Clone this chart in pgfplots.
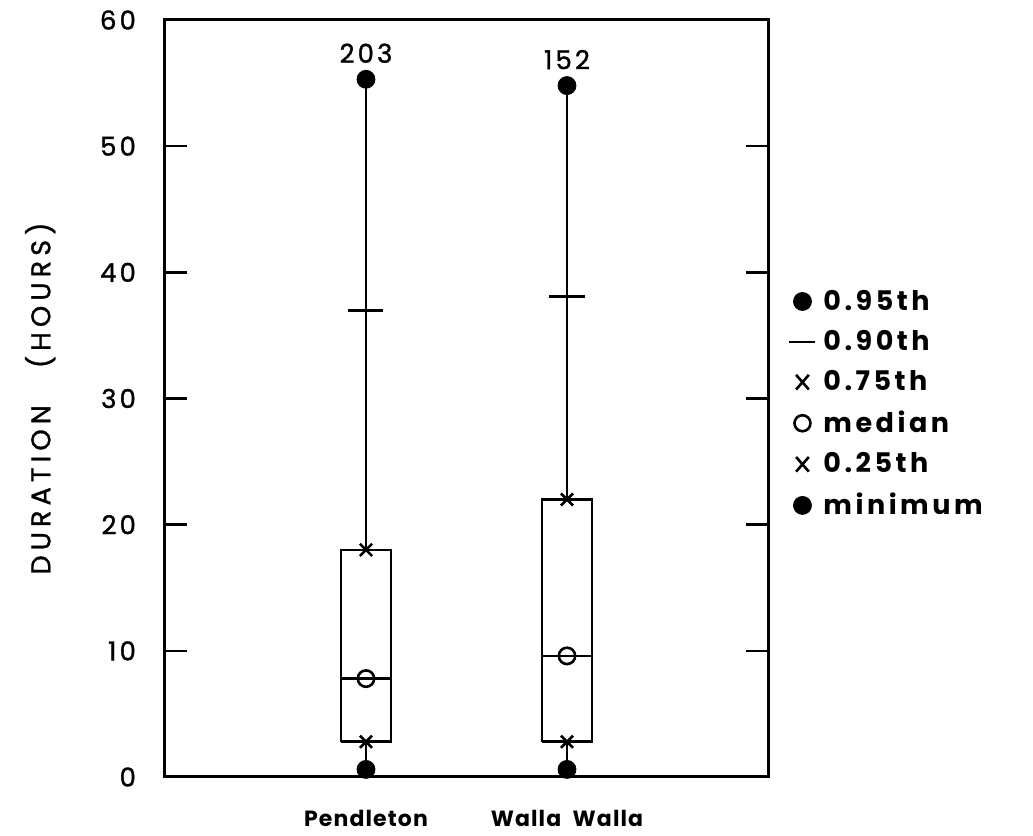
\documentclass[border=0pt]{standalone}
\usepackage{fontspec}
\setmainfont{Poppins}
\newfontfamily\lsfont{Poppins}[LetterSpace=12, FakeBold=1.2]
\newfontfamily\ylfont{Poppins}[LetterSpace=19, FakeBold=1.2]
\newfontfamily\xlfont{Poppins}[LetterSpace=5]
\newfontfamily\lgfont{Poppins}[LetterSpace=13]
\usepackage{pgfplots}
\usetikzlibrary{calc}
\pgfplotsset{compat=1.18}
\begin{document}
\begin{tikzpicture}
\begin{axis}[
  scale only axis,
  width=301.5pt, height=378.5pt,
  xmin=0, xmax=3, ymin=0, ymax=60,
  axis line style={line width=1.5pt},
  xtick={1,2}, xticklabels={Pendleton, Walla\ \ Walla},
  xtick style={draw=none},
  xticklabel style={font=\xlfont\bfseries\fontsize{11}{13}\selectfont, yshift=-13pt},
  ytick={0,10,20,30,40,50,60},
  ytick pos=both,
  tick align=inside,
  major tick length=11pt,
  ytick style={black, line width=1.2pt},
  yticklabel style={font=\lsfont\fontsize{13}{15}\selectfont, xshift=-11pt},
  /pgf/number format/assume math mode=true,
  ylabel={DURATION\ \ \ (HOURS)},
  ylabel style={font=\ylfont\fontsize{13.5}{15}\selectfont, at={(axis description cs:-0.207,0.5)}, anchor=center},
  legend style={at={(1.025,0.493)}, anchor=west, draw=none, fill=none,
    font=\lgfont\bfseries\fontsize{13.5}{15}\selectfont, row sep=4.6pt,
    legend cell align=left, nodes={inner xsep=4pt}},
  legend image code/.code={\draw[#1] plot coordinates {(0.3cm,0cm)};},
  clip=false,
]
% legend entries
\addlegendimage{black, only marks, mark=*, mark size=4.5pt}
\addlegendentry{0.95th}
\addlegendimage{black, only marks, mark=-, mark size=6.5pt, mark options={line width=1.3pt}}
\addlegendentry{0.90th}
\addlegendimage{black, only marks, mark=x, mark size=4.5pt, mark options={line width=1.3pt, yscale=1.15}}
\addlegendentry{0.75th}
\addlegendimage{black, only marks, mark=o, mark size=4pt, mark options={line width=1.3pt}}
\addlegendentry{median}
\addlegendimage{black, only marks, mark=x, mark size=4.5pt, mark options={line width=1.3pt, yscale=1.15}}
\addlegendentry{0.25th}
\addlegendimage{black, only marks, mark=*, mark size=4.5pt}
\addlegendentry{minimum}
% Pendleton
\addplot[black, line width=1.3pt, forget plot] coordinates {(1,18) (1,55.3)};
\addplot[black, line width=1.3pt, forget plot] coordinates {(1,0.6) (1,2.8)};
\addplot[black, line width=1.2pt, forget plot] coordinates {(0.876,2.8) (1.124,2.8) (1.124,18) (0.876,18) (0.876,2.8)};
\addplot[black, line width=1.2pt, forget plot] coordinates {(0.876,7.8) (1.124,7.8)};
% Walla Walla
\addplot[black, line width=1.3pt, forget plot] coordinates {(2,22) (2,54.8)};
\addplot[black, line width=1.3pt, forget plot] coordinates {(2,0.6) (2,2.8)};
\addplot[black, line width=1.2pt, forget plot] coordinates {(1.876,2.8) (2.124,2.8) (2.124,22) (1.876,22) (1.876,2.8)};
\addplot[black, line width=1.2pt, forget plot] coordinates {(1.876,9.6) (2.124,9.6)};
% 0.95th
\addplot[black, only marks, mark=*, mark size=4.5pt, forget plot,
  nodes near coords, point meta=explicit symbolic,
  every node near coord/.append style={font=\lsfont\fontsize{13}{15}\selectfont, anchor=south, inner sep=0pt, yshift=8pt}]
  coordinates {(1,55.3) [203] (2,54.8) [152]};
% 0.90th
\addplot[black, only marks, mark=-, mark size=8.75pt, mark options={line width=1.4pt}, forget plot]
  coordinates {(1,37.0) (2,38.1)};
% 0.75th and 0.25th
\addplot[black, only marks, mark=x, mark size=4.3pt, mark options={line width=1.3pt}, forget plot]
  coordinates {(1,18) (2,22) (1,2.8) (2,2.8)};
% median
\addplot[black, only marks, mark=o, mark size=4.1pt, mark options={line width=1.3pt, fill=white}, forget plot]
  coordinates {(1,7.8) (2,9.6)};
% minimum
\addplot[black, only marks, mark=*, mark size=4.5pt, forget plot]
  coordinates {(1,0.6) (2,0.6)};
\end{axis}
% left-side inward tick marks, drawn after the axis on axis anchors
\foreach \f in {0.16667,0.33333,0.5,0.66667,0.83333} {
  \draw[black, line width=1.2pt] ($(current axis.south west)!\f!(current axis.north west)$) -- ++(11pt,0pt);
}
\path[use as bounding box] (current axis.south west) ++(-82.5pt,-29pt) rectangle ([shift={(132.5pt,10pt)}]current axis.north east);
\end{tikzpicture}
\end{document}
